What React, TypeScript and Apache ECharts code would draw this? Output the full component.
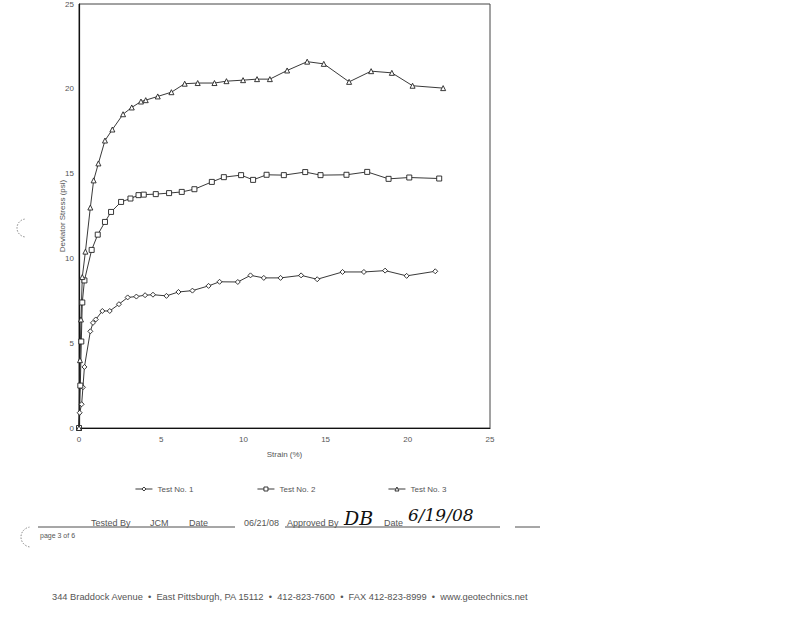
import React, { useEffect, useRef } from "react";
import * as echarts from "echarts";

const seriesNames = ["Test No. 1", "Test No. 2", "Test No. 3"];
const xTicks = [0, 5, 10, 15, 20, 25];
const yTicks = [0, 5, 10, 15, 20, 25];

const test1Strain = [0, 0.04, 0.16, 0.24, 0.33, 0.69, 0.85, 1.02, 1.42, 1.87, 2.43, 2.96, 3.49, 4.02, 4.5, 5.32, 6.05, 6.9, 7.88, 8.55, 9.66, 10.43, 11.24, 12.26, 13.51, 14.49, 16.03, 17.33, 18.62, 19.93, 21.67];
const test1Stress = [0, 0.9, 1.4, 2.4, 3.6, 5.7, 6.2, 6.4, 6.9, 6.9, 7.3, 7.7, 7.75, 7.83, 7.86, 7.79, 8.02, 8.1, 8.38, 8.62, 8.61, 9.0, 8.85, 8.85, 9.0, 8.77, 9.2, 9.2, 9.28, 8.97, 9.24];

const test2Strain = [0, 0.08, 0.14, 0.2, 0.33, 0.77, 1.14, 1.58, 1.95, 2.56, 3.13, 3.62, 3.94, 4.67, 5.48, 6.25, 7.02, 8.08, 8.81, 9.86, 10.59, 11.41, 12.46, 13.76, 14.69, 16.27, 17.53, 18.83, 20.09, 21.91];
const test2Stress = [0, 2.5, 5.1, 7.4, 8.7, 10.5, 11.4, 12.15, 12.74, 13.33, 13.53, 13.73, 13.76, 13.79, 13.85, 13.92, 14.08, 14.51, 14.79, 14.91, 14.63, 14.93, 14.91, 15.09, 14.91, 14.93, 15.1, 14.69, 14.77, 14.71];

const test3Strain = [0, 0.06, 0.12, 0.2, 0.39, 0.69, 0.89, 1.18, 1.58, 2.03, 2.68, 3.21, 3.77, 4.06, 4.79, 5.62, 6.43, 7.22, 8.24, 8.97, 9.98, 10.83, 11.61, 12.66, 13.88, 14.89, 16.43, 17.77, 19.03, 20.29, 22.15];
const test3Stress = [0, 4.0, 6.4, 8.9, 10.4, 13.0, 14.6, 15.6, 16.95, 17.6, 18.5, 18.9, 19.25, 19.33, 19.55, 19.8, 20.3, 20.34, 20.34, 20.45, 20.51, 20.57, 20.57, 21.08, 21.6, 21.47, 20.41, 21.04, 20.94, 20.18, 20.04];

const symbols = ["diamond", "rect", "triangle"];

const FONT = "Liberation Sans, Arial, sans-serif";
const TXT = "#555";

function pairs(xs: number[], ys: number[]) {
  return xs.map((x, i) => [x, ys[i]]);
}

export default function App() {
  const ref = useRef<HTMLDivElement>(null);
  useEffect(() => {
    if (!ref.current) return;
    const chart = echarts.init(ref.current, null, { renderer: "svg" });
    const data = [
      pairs(test1Strain, test1Stress),
      pairs(test2Strain, test2Stress),
      pairs(test3Strain, test3Stress),
    ];
    const legendLefts = [130, 252, 383];
    chart.setOption({
      animation: false,
      backgroundColor: "#fff",
      textStyle: { fontFamily: FONT },
      grid: {
        left: 79,
        right: 310,
        top: 4,
        bottom: 190,
        show: true,
        borderColor: "#444",
        borderWidth: 1,
        backgroundColor: "transparent",
      },
      xAxis: {
        type: "value",
        min: xTicks[0],
        max: xTicks[xTicks.length - 1],
        interval: 5,
        name: "Strain (%)",
        nameLocation: "middle",
        nameGap: 22,
        nameMoveOverlap: false,
        nameTextStyle: { fontSize: 8, color: TXT, fontFamily: FONT },
        axisLine: { show: true, onZero: false, lineStyle: { color: "#111", width: 1.2 } },
        axisTick: { show: false },
        splitLine: { show: false },
        axisLabel: { fontSize: 8, color: TXT, margin: 7, fontFamily: FONT },
      },
      yAxis: {
        type: "value",
        min: yTicks[0],
        max: yTicks[yTicks.length - 1],
        interval: 5,
        name: "Deviator Stress (psi)",
        nameLocation: "middle",
        nameGap: 13,
        nameMoveOverlap: false,
        nameTextStyle: { fontSize: 8, color: TXT, fontFamily: FONT },
        axisLine: { show: true, onZero: false, lineStyle: { color: "#111", width: 1.2 } },
        axisTick: { show: false },
        splitLine: { show: false },
        axisLabel: { fontSize: 8, color: TXT, margin: 5, fontFamily: FONT },
      },
      legend: seriesNames.map((n, i) => ({
        data: [n],
        left: legendLefts[i],
        top: 480,
        itemWidth: 17,
        itemHeight: 5,
        itemGap: 2,
        textStyle: { fontSize: 8, color: TXT, fontFamily: FONT },
        itemStyle: { color: "#fff", borderColor: "#222", borderWidth: 0.9 },
        lineStyle: { color: "#222", width: 0.9 },
      })),
      series: seriesNames.map((n, i) => ({
        name: n,
        type: "line",
        data: data[i],
        symbol: symbols[i],
        symbolSize: 5,
        showSymbol: true,
        lineStyle: { color: "#222", width: 0.9 },
        itemStyle: { color: "#fff", borderColor: "#222", borderWidth: 0.9 },
      })),
      graphic: [
        { type: "arc", shape: { cx: 26, cy: 228, r: 9, startAngle: Math.PI * 0.55, endAngle: Math.PI * 1.45 }, style: { stroke: "#666", lineWidth: 0.8, fill: "none", lineDash: [1.5, 1.5] } },
        { type: "arc", shape: { cx: 31, cy: 537, r: 10, startAngle: Math.PI * 0.55, endAngle: Math.PI * 1.45 }, style: { stroke: "#666", lineWidth: 0.8, fill: "none", lineDash: [1.5, 1.5] } },
        { type: "line", shape: { x1: 38, y1: 527, x2: 235, y2: 527 }, style: { stroke: "#222", lineWidth: 0.8 } },
        { type: "line", shape: { x1: 285, y1: 527, x2: 500, y2: 527 }, style: { stroke: "#222", lineWidth: 0.8 } },
        { type: "line", shape: { x1: 515, y1: 527, x2: 540, y2: 527 }, style: { stroke: "#222", lineWidth: 0.8 } },
        { type: "text", x: 91, y: 518, style: { text: "Tested By", fontSize: 9, fill: TXT, fontFamily: FONT } },
        { type: "text", x: 150, y: 518, style: { text: "JCM", fontSize: 9, fill: TXT, fontFamily: FONT } },
        { type: "text", x: 189, y: 518, style: { text: "Date", fontSize: 9, fill: TXT, fontFamily: FONT } },
        { type: "text", x: 244, y: 518, style: { text: "06/21/08", fontSize: 9, fill: TXT, fontFamily: FONT } },
        { type: "text", x: 287, y: 518, style: { text: "Approved By", fontSize: 9, fill: TXT, fontFamily: FONT } },
        { type: "text", x: 344, y: 508, style: { text: "DB", fontSize: 19, fill: "#111", fontFamily: "DejaVu Serif, serif", fontStyle: "italic" } },
        { type: "text", x: 384, y: 518, style: { text: "Date", fontSize: 9, fill: TXT, fontFamily: FONT } },
        { type: "text", x: 408, y: 506, style: { text: "6/19/08", fontSize: 17, fill: "#111", fontFamily: "DejaVu Serif, serif", fontStyle: "italic" } },
        { type: "text", x: 40, y: 532, style: { text: "page 3 of 6", fontSize: 7, fill: TXT, fontFamily: FONT } },
        { type: "text", x: 52, y: 592, style: { text: "344 Braddock Avenue  •  East Pittsburgh, PA 15112  •  412-823-7600  •  FAX 412-823-8999  •  www.geotechnics.net", fontSize: 9.3, fill: TXT, fontFamily: FONT } },
      ],
    });
    return () => chart.dispose();
  }, []);
  return (
    <div
      ref={ref}
      style={{ position: "fixed", left: 0, top: 0, width: 800, height: 618, background: "#fff" }}
    />
  );
}
